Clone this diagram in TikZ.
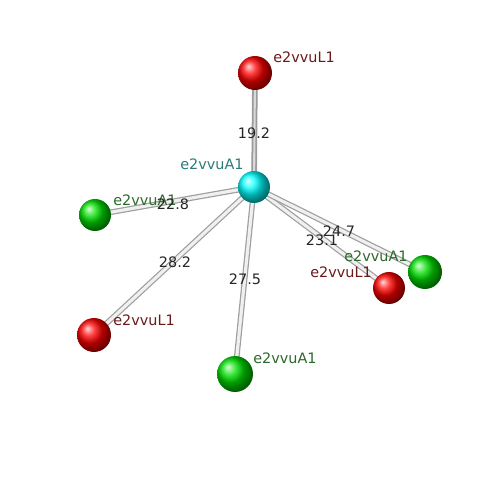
\documentclass[tikz,border=0pt]{standalone}
\usepackage{fontspec}
\setmainfont{DejaVu Sans}
\definecolor{lblred}{HTML}{6B1A1A}
\definecolor{lblteal}{HTML}{2E7A7A}
\definecolor{lblgreen}{HTML}{2A6A2A}
\definecolor{brightgreen}{HTML}{00E000}
\begin{document}
\begin{tikzpicture}[x=0.02cm,y=-0.02cm,
  atom/.style={circle,inner sep=0pt,minimum size=#1*0.04cm},
  redatom/.style={atom=#1,ball color=red},
  greenatom/.style={atom=#1,ball color=brightgreen},
  cyanatom/.style={atom=#1,ball color=cyan},
  bondout/.style={line width=3.2pt,color=gray!75},
  bondin/.style={line width=1.8pt,color=gray!12},
  lbl/.style={font=\fontsize{8.2}{10}\selectfont,inner sep=0pt,anchor=west},
  dist/.style={font=\fontsize{8.2}{10}\selectfont,inner sep=0pt,text=black!85}]
\useasboundingbox (0,0) rectangle (500,500);
% atom positions
\coordinate (c) at (254,187);
\coordinate (t) at (255,73);
\coordinate (lg) at (95,215);
\coordinate (rr) at (389,288);
\coordinate (rg) at (425,272);
\coordinate (bl) at (94,335);
\coordinate (bg) at (235,374);
% bonds
\foreach \e in {t,lg,rr,rg,bl,bg}{
  \draw[bondout] (c) -- (\e);
  \draw[bondin] (c) -- (\e);
}
\draw[line width=2.6pt,color=gray!80] (c) -- (t);
\draw[line width=1.2pt,color=gray!30] (c) -- (t);
% atoms
\node[redatom=17] (nt) at (t) {};
\node[greenatom=16] (nlg) at (lg) {};
\node[redatom=16] (nrr) at (rr) {};
\node[greenatom=17] (nrg) at (rg) {};
\node[redatom=17] (nbl) at (bl) {};
\node[greenatom=18] (nbg) at (bg) {};
\node[cyanatom=16] (nc) at (c) {};
% atom labels
\node[lbl,text=lblred] (Lt) at (273,57) {e2vvuL1};
\node[lbl,text=lblteal] (Lc) at (180,164) {e2vvuA1};
\node[lbl,text=lblgreen] (Llg) at (113,200) {e2vvuA1};
\node[lbl,text=lblgreen] (Lrg) at (344,256) {e2vvuA1};
\node[lbl,text=lblred] (Lrr) at (310,272) {e2vvuL1};
\node[lbl,text=lblred] (Lbl) at (113,320) {e2vvuL1};
\node[lbl,text=lblgreen] (Lbg) at (253,358) {e2vvuA1};
% distance labels
\node[dist] (d1) at (254,133) {19.2};
\node[dist] (d2) at (173,204) {22.8};
\node[dist] (d3) at (175,262) {28.2};
\node[dist] (d4) at (245,279) {27.5};
\node[dist] (d5) at (339,231) {24.7};
\node[dist] (d6) at (322,240) {23.1};
\end{tikzpicture}
\end{document}
